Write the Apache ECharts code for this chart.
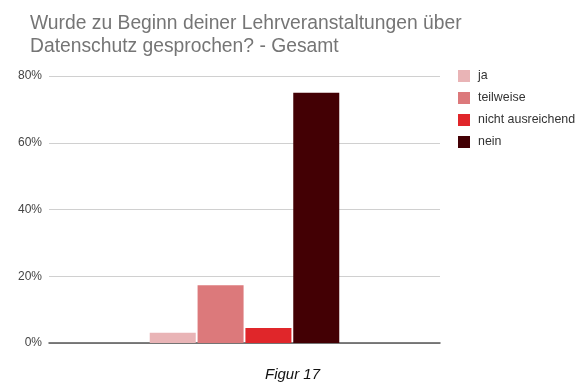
<!DOCTYPE html>
<html>
<head>
<meta charset="utf-8">
<script src="https://cdn.jsdelivr.net/npm/echarts@6/dist/echarts.min.js"></script>
<style>
html,body{margin:0;padding:0;background:#fff;}
#c{width:585px;height:390px;}
</style>
</head>
<body>
<div id="c"></div>
<script>
const titleLines = ["Wurde zu Beginn deiner Lehrveranstaltungen über", "Datenschutz gesprochen? - Gesamt"];
const caption = "Figur 17";
const categories = ["Gesamt"];
const seriesNames = ["ja", "teilweise", "nicht ausreichend", "nein"];
const seriesValues = [[3.1], [17.3], [4.5], [75.0]];
const seriesColors = ["#e9b4b6", "#dc797b", "#e0262a", "#430004"];
const yTicks = [0, 20, 40, 60, 80];

const chart = echarts.init(document.getElementById('c'), null, {renderer: 'canvas'});
chart.setOption({
  animation: false,
  backgroundColor: '#ffffff',
  title: [
    {text: titleLines.join('\n'), left: 25, top: 7,
     textStyle: {fontFamily: 'Liberation Sans', fontSize: 19.3, fontWeight: 'normal', color: '#757575', lineHeight: 23}},
    {text: caption, left: 'center', top: 362,
     textStyle: {fontFamily: 'Liberation Sans', fontSize: 15, fontStyle: 'italic', fontWeight: 'normal', color: '#111'}}
  ],
  legend: {
    orient: 'vertical', left: 453, top: 65,
    itemWidth: 12, itemHeight: 12, itemGap: 10,
    icon: 'rect',
    textStyle: {fontFamily: 'Liberation Sans', fontSize: 12.4, color: '#333', padding: [0, 0, 0, 3]},
    data: seriesNames
  },
  grid: {left: 49, right: 145, top: 76, bottom: 47},
  xAxis: {
    type: 'category', data: categories,
    axisLabel: {show: false}, axisTick: {show: false},
    axisLine: {lineStyle: {color: '#555', width: 1.5}}
  },
  yAxis: {
    type: 'value', min: yTicks[0], max: yTicks[yTicks.length-1], interval: 20,
    axisLabel: {formatter: v => v + '%', fontFamily: 'Liberation Sans', fontSize: 12, color: '#444', margin: 7},
    axisLine: {show: false}, axisTick: {show: false},
    splitLine: {lineStyle: {color: '#d0d0d0', width: 1}}
  },
  series: seriesNames.map((n, i) => ({
    name: n, type: 'bar', data: seriesValues[i],
    barWidth: 46, barGap: '4%',
    itemStyle: {color: seriesColors[i]}
  }))
});
</script>
</body>
</html>
